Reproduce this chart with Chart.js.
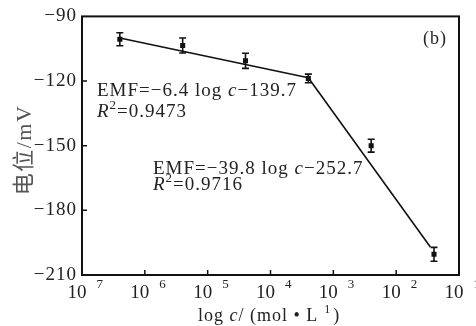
<!DOCTYPE html>
<html>
<head>
<meta charset="utf-8">
<script src="https://cdn.jsdelivr.net/npm/chart.js@4"></script>
<style>
    html, body { margin: 0; padding: 0; background: #fff; }
    canvas { display: block; }
</style>
</head>
<body>
<canvas id="chart" width="476" height="326"></canvas>
<script>
// data
const concentrations = [4e-7, 4e-6, 4e-5, 4e-4, 4e-3, 4e-2];
const potentials = [-100.6, -103.5, -110.6, -118.8, -150.0, -200.4];
const errors = [3.0, 3.5, 3.5, 2.0, 3.0, 3.2];
const fit1X = [4e-7, 4e-4];
const fit1Y = [-100.0, -118.5];
const fit2X = [4e-4, 3.5e-2];
const fit2Y = [-118.5, -197.0];
const xTicks = [1e-7, 1e-6, 1e-5, 1e-4, 1e-3, 1e-2, 1e-1];
const xTickExponents = ['7', '6', '5', '4', '3', '2', '1'];
const yTicks = [-90, -120, -150, -180, -210];

const SERIF = '"Liberation Serif", "Noto Sans CJK SC", serif';
const INK = '#222';

function drawRich(ctx, x, y, parts, size) {
    parts.forEach(p => {
        const s = p.sup ? Math.round(size * 0.68) : size;
        ctx.font = (p.italic ? 'italic ' : '') + s + 'px ' + SERIF;
        ctx.fillText(p.t, x, p.sup ? y - size * 0.42 : y);
        x += ctx.measureText(p.t).width + (p.gap || 0);
    });
}

const decorations = {
    id: 'decorations',
    beforeDraw(chart) {
        chart.ctx.letterSpacing = '1px';
    },
    afterDatasetsDraw(chart) {
        const ctx = chart.ctx;
        const xs = chart.scales.x, ys = chart.scales.y;
        const a = chart.chartArea;
        ctx.save();

        // error bars
        ctx.strokeStyle = '#111';
        ctx.lineWidth = 1.6;
        concentrations.forEach((c, i) => {
            const px = xs.getPixelForValue(c);
            const top = ys.getPixelForValue(potentials[i] + errors[i]);
            const bot = ys.getPixelForValue(potentials[i] - errors[i]);
            ctx.beginPath();
            ctx.moveTo(px, top); ctx.lineTo(px, bot);
            ctx.moveTo(px - 3.5, top); ctx.lineTo(px + 3.5, top);
            ctx.moveTo(px - 3.5, bot); ctx.lineTo(px + 3.5, bot);
            ctx.stroke();
        });

        // frame and inward ticks
        ctx.lineWidth = 2;
        ctx.strokeStyle = '#111';
        ctx.strokeRect(a.left, a.top, a.right - a.left, a.bottom - a.top);
        ctx.lineWidth = 1.5;
        ctx.beginPath();
        yTicks.slice(1, -1).forEach(v => {
            const py = ys.getPixelForValue(v);
            ctx.moveTo(a.left, py); ctx.lineTo(a.left + 5, py);
        });
        xTicks.slice(1, -1).forEach(v => {
            const px = xs.getPixelForValue(v);
            ctx.moveTo(px, a.bottom); ctx.lineTo(px, a.bottom - 5);
        });
        ctx.stroke();

        ctx.fillStyle = INK;
        ctx.textBaseline = 'alphabetic';
        ctx.textAlign = 'left';
        ctx.letterSpacing = '0px';

        // x tick labels: 10 with raised exponent
        xTicks.forEach((v, i) => {
            const px = xs.getPixelForValue(v);
            ctx.font = '19px ' + SERIF;
            const w10 = ctx.measureText('10').width;
            const start = px - w10 / 2 - 5;
            ctx.fillText('10', start, 298);
            ctx.font = '13px ' + SERIF;
            ctx.fillText(xTickExponents[i], start + w10 + 10, 288);
        });

        // axis titles
        const xt = [{ t: 'log ' }, { t: 'c', italic: true }, { t: '/ (mol \u2022 L', gap: 6 }, { t: '1', sup: true, gap: 2 }, { t: ')' }];
        ctx.letterSpacing = '1px';
        drawRich(ctx, 198, 321, xt, 18);

        ctx.save();
        ctx.translate(31, 150);
        ctx.rotate(-Math.PI / 2);
        ctx.fillStyle = '#555';
        ctx.textAlign = 'center';
        ctx.letterSpacing = '1.5px';
        ctx.font = '22px ' + SERIF;
        ctx.fillText('电位/mV', 0, 0);
        ctx.restore();

        // panel label
        ctx.font = '18px ' + SERIF;
        ctx.fillText('(b)', 423, 44);

        // fit equations
        drawRich(ctx, 97, 96, [{ t: 'EMF=\u22126.4 log ' }, { t: 'c', italic: true }, { t: '\u2212139.7' }], 19);
        drawRich(ctx, 97, 117, [{ t: 'R', italic: true }, { t: '2', sup: true }, { t: '=0.9473' }], 19);
        drawRich(ctx, 153, 174, [{ t: 'EMF=\u221239.8 log ' }, { t: 'c', italic: true }, { t: '\u2212252.7' }], 19);
        drawRich(ctx, 153, 190, [{ t: 'R', italic: true }, { t: '2', sup: true }, { t: '=0.9716' }], 19);

        ctx.restore();
    }
};

new Chart(document.getElementById('chart'), {
    type: 'scatter',
    data: {
        datasets: [
            {
                label: 'EMF',
                data: concentrations.map((c, i) => ({ x: c, y: potentials[i] })),
                pointStyle: 'rect',
                pointRadius: 3.6,
                backgroundColor: '#111',
                borderColor: '#111',
                borderWidth: 0,
                showLine: false
            },
            {
                label: 'fit 1',
                data: fit1X.map((c, i) => ({ x: c, y: fit1Y[i] })),
                showLine: true,
                borderColor: '#111',
                borderWidth: 1.6,
                pointRadius: 0
            },
            {
                label: 'fit 2',
                data: fit2X.map((c, i) => ({ x: c, y: fit2Y[i] })),
                showLine: true,
                borderColor: '#111',
                borderWidth: 1.6,
                pointRadius: 0
            }
        ]
    },
    options: {
        responsive: false,
        animation: false,
        layout: { padding: { left: 0, top: 16, right: 17, bottom: 0 } },
        plugins: {
            legend: { display: false },
            tooltip: { enabled: false }
        },
        scales: {
            x: {
                type: 'logarithmic',
                min: 1e-7,
                max: 1e-1,
                afterBuildTicks: scale => { scale.ticks = xTicks.map(v => ({ value: v })); },
                afterFit: scale => { scale.height = 51; },
                grid: { display: false, drawTicks: false },
                border: { display: false },
                ticks: { display: false }
            },
            y: {
                min: -210,
                max: -90,
                afterBuildTicks: scale => { scale.ticks = yTicks.map(v => ({ value: v })); },
                afterFit: scale => { scale.width = 82; },
                grid: { display: false, drawTicks: false },
                border: { display: false },
                ticks: {
                    padding: 5,
                    color: INK,
                    font: { family: SERIF, size: 19 },
                    callback: v => '\u2212' + Math.abs(v)
                }
            }
        }
    },
    plugins: [decorations]
});
</script>
</body>
</html>
